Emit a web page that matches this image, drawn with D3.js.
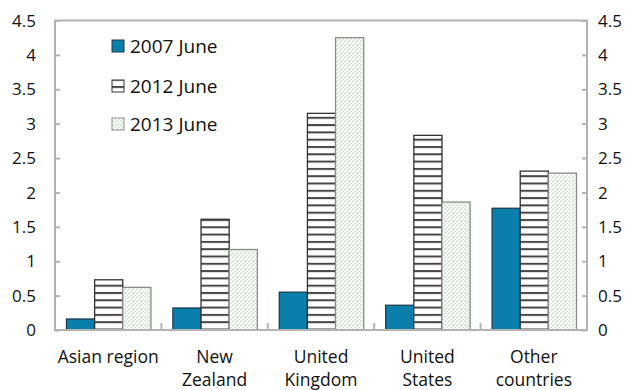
<!DOCTYPE html>
<html>
<head>
<meta charset="utf-8">
<script src="https://cdn.jsdelivr.net/npm/d3@7"></script>
<style>
  html, body { margin: 0; padding: 0; background: #fff; }
  svg { display: block; font-family: "Open Sans", "Noto Sans", sans-serif; }
</style>
</head>
<body>
<svg id="chart" width="632" height="390"></svg>
<script>
const categories = [["Asian region"], ["New", "Zealand"], ["United", "Kingdom"], ["United", "States"], ["Other", "countries"]];
const seriesNames = ["2007 June", "2012 June", "2013 June"];
const values2007 = [0.16, 0.32, 0.55, 0.36, 1.77];
const values2012 = [0.73, 1.61, 3.15, 2.83, 2.31];
const values2013 = [0.62, 1.17, 4.25, 1.86, 2.28];
const yTicks = [0, 0.5, 1, 1.5, 2, 2.5, 3, 3.5, 4, 4.5];
const yTickLabels = ["0", "0.5", "1", "1.5", "2", "2.5", "3", "3.5", "4", "4.5"];

const seriesValues = [values2007, values2012, values2013];

const svg = d3.select("#chart");
const plotLeft = 55, plotRight = 587, plotTop = 20.5, plotBottom = 330;

const defs = svg.append("defs");
const stripe = defs.append("pattern").attr("id", "stripes")
  .attr("patternUnits", "userSpaceOnUse").attr("width", 8).attr("height", 7.3);
stripe.append("rect").attr("width", 8).attr("height", 7.3).attr("fill", "#fff");
stripe.append("rect").attr("y", 0).attr("width", 8).attr("height", 2).attr("fill", "#454545");

const dots = defs.append("pattern").attr("id", "dots")
  .attr("patternUnits", "userSpaceOnUse").attr("width", 4).attr("height", 4);
dots.append("rect").attr("width", 4).attr("height", 4).attr("fill", "#ffffff");
dots.append("rect").attr("x", 0.5).attr("y", 0.5).attr("width", 1.3).attr("height", 1.3).attr("fill", "#92d38a");
dots.append("rect").attr("x", 2.5).attr("y", 2.5).attr("width", 1.3).attr("height", 1.3).attr("fill", "#b3e2ac");

const fills = ["#0b7fac", "url(#stripes)", "url(#dots)"];
const strokes = ["#1d3d4c", "#333", "#8a8a8a"];

const x = d3.scaleBand().domain(d3.range(categories.length)).range([plotLeft, plotRight]).paddingInner(0).paddingOuter(0);
const xs = d3.scaleBand().domain(d3.range(seriesNames.length)).range([0, x.bandwidth()]).paddingInner(0).paddingOuter(0.39);
const y = d3.scaleLinear().domain([0, 4.5]).range([plotBottom, plotTop]);

// bars
seriesNames.forEach((name, si) => {
  svg.append("g").selectAll("rect").data(seriesValues[si]).join("rect")
    .attr("x", (d, i) => x(i) + xs(si) + 0.5)
    .attr("width", xs.bandwidth())
    .attr("y", d => y(d))
    .attr("height", d => y(0) - y(d))
    .attr("fill", fills[si])
    .attr("stroke", strokes[si])
    .attr("stroke-width", 1.3);
});

// frame
svg.append("rect").attr("x", plotLeft).attr("y", plotTop).attr("width", plotRight - plotLeft).attr("height", plotBottom - plotTop)
  .attr("fill", "none").attr("stroke", "#b3b3b3").attr("stroke-width", 2);

// axes
const yLeft = d3.axisRight(y).tickValues(yTicks).tickSize(5).tickFormat("");
svg.append("g").attr("transform", `translate(${plotLeft},0)`).call(yLeft)
  .call(g => g.select(".domain").remove())
  .call(g => g.selectAll("line").attr("stroke", "#b3b3b3").attr("stroke-width", 2));
const yRight = d3.axisLeft(y).tickValues(yTicks).tickSize(5).tickFormat("");
svg.append("g").attr("transform", `translate(${plotRight},0)`).call(yRight)
  .call(g => g.select(".domain").remove())
  .call(g => g.selectAll("line").attr("stroke", "#b3b3b3").attr("stroke-width", 2));

// tick labels
svg.append("g").selectAll("text").data(yTicks).join("text")
  .attr("x", 36).attr("y", d => y(d)).attr("dy", "0.36em").attr("text-anchor", "end")
  .attr("font-size", 17).attr("fill", "#111").text((d, i) => yTickLabels[i]);
svg.append("g").selectAll("text").data(yTicks).join("text")
  .attr("x", 598).attr("y", d => y(d)).attr("dy", "0.36em").attr("text-anchor", "start")
  .attr("font-size", 17).attr("fill", "#111").text((d, i) => yTickLabels[i]);

// category boundary ticks
svg.append("g").selectAll("line").data(d3.range(1, categories.length)).join("line")
  .attr("x1", i => x(i)).attr("x2", i => x(i)).attr("y1", plotBottom).attr("y2", plotBottom - 7)
  .attr("stroke", "#b3b3b3").attr("stroke-width", 2);

// category labels
const cat = svg.append("g").selectAll("text").data(categories).join("text")
  .attr("text-anchor", "middle").attr("font-size", 17.5).attr("fill", "#111")
  .attr("transform", (d, i) => `translate(${x(i) + x.bandwidth() / 2},363)`);
cat.selectAll("tspan").data(d => d).join("tspan")
  .attr("x", 0).attr("y", (d, i) => i * 23).text(d => d);

// legend
const legY = [46, 86, 124];
const leg = svg.append("g").selectAll("g").data(seriesNames).join("g")
  .attr("transform", (d, i) => `translate(112,${legY[i]})`);
leg.append("rect").attr("x", 0).attr("y", -6).attr("width", 12).attr("height", 12)
  .attr("fill", (d, i) => fills[i]).attr("stroke", (d, i) => strokes[i]).attr("stroke-width", 1);
leg.append("text").attr("x", 18).attr("y", 0).attr("dy", "0.36em")
  .attr("font-size", 19).attr("fill", "#111").text(d => d);
</script>
</body>
</html>
